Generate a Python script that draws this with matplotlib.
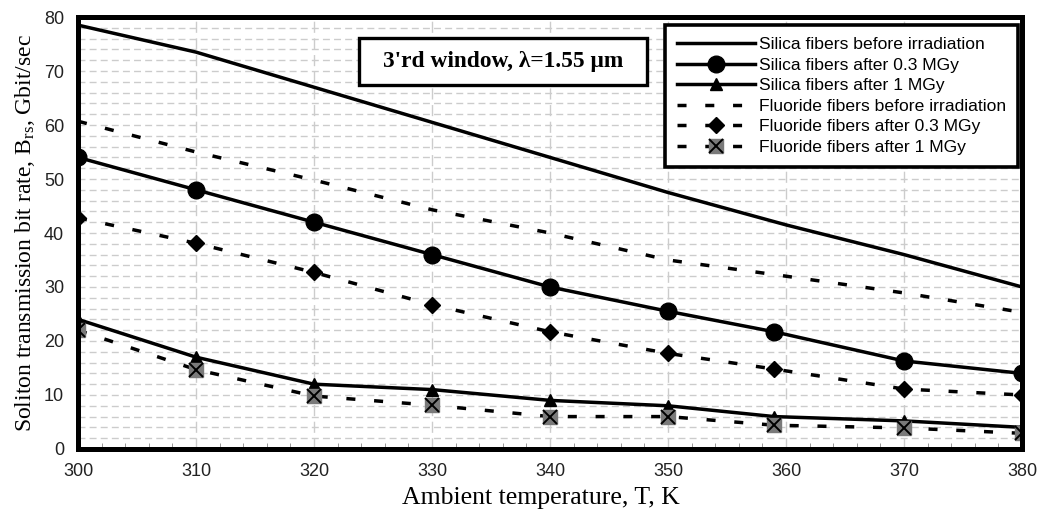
import matplotlib
matplotlib.use("Agg")
import matplotlib.pyplot as plt
from matplotlib.legend_handler import HandlerTuple
from matplotlib.patches import Rectangle
from matplotlib.ticker import MultipleLocator

# ambient temperature, K
temp_k = [300, 310, 320, 330, 340, 350, 359, 370, 380]
temp_before_k = [300, 310, 320, 330, 340, 350, 360, 370, 380]

# soliton transmission bit rate, Gbit/sec
silica_before = [78.5, 73.5, 67.0, 60.5, 54.0, 47.5, 41.5, 36.0, 30.0]
silica_03 = [54.0, 48.0, 42.0, 36.0, 30.0, 25.5, 21.7, 16.3, 14.0]
silica_1 = [24.0, 17.0, 12.0, 11.0, 9.0, 8.0, 6.0, 5.2, 4.0]
fluoride_before = [60.7, 55.0, 49.8, 44.3, 40.0, 35.0, 32.0, 28.9, 25.3]
fluoride_03 = [42.8, 38.1, 32.7, 26.7, 21.7, 17.7, 14.8, 11.1, 10.0]
fluoride_1 = [22.0, 14.7, 9.8, 8.1, 6.0, 6.0, 4.4, 3.9, 2.9]

labels = [
    "Silica fibers before irradiation",
    "Silica fibers after 0.3 MGy",
    "Silica fibers after 1 MGy",
    "Fluoride fibers before irradiation",
    "Fluoride fibers after 0.3 MGy",
    "Fluoride fibers after 1 MGy",
]

SANS = ["Liberation Sans", "DejaVu Sans"]
SERIF = ["Liberation Serif", "DejaVu Serif"]
plt.rcParams["font.family"] = SANS
plt.rcParams["mathtext.fontset"] = "stix"

LW = 2.5
DASH = (0, (2.6, 5.4))

fig = plt.figure(figsize=(10.42, 5.13), dpi=100)
ax = fig.add_axes([0.0749, 0.1248, 0.906, 0.842])

h1, = ax.plot(temp_before_k, silica_before, color="black", lw=LW)
h2, = ax.plot(temp_k, silica_03, color="black", lw=LW, marker="o", ms=12)
h3, = ax.plot(temp_k, silica_1, color="black", lw=LW, marker="^", ms=9)
h4, = ax.plot(temp_before_k, fluoride_before, color="black", lw=LW, ls=DASH)
h5, = ax.plot(temp_k, fluoride_03, color="black", lw=LW, ls=DASH, marker="D", ms=8.5)
h6, = ax.plot(temp_k, fluoride_1, color="black", lw=LW, ls=DASH, marker="s", ms=10.5,
              markerfacecolor="#7a7a7a", markeredgecolor="#7a7a7a")
h6x, = ax.plot(temp_k, fluoride_1, ls="none", marker="x", ms=10.5, mew=1.4, color="black")

ax.set_xlim(300, 380)
ax.set_ylim(0, 80)
ax.xaxis.set_major_locator(MultipleLocator(10))
ax.xaxis.set_minor_locator(MultipleLocator(2))
ax.yaxis.set_major_locator(MultipleLocator(10))
ax.yaxis.set_minor_locator(MultipleLocator(2))

ax.grid(axis="y", which="both", color="#cccccc", ls=(0, (5, 3)), lw=1.0)
ax.grid(axis="x", which="major", color="#cccccc", ls=(0, (8, 4)), lw=1.0)
ax.set_axisbelow(True)

ax.tick_params(which="major", length=0, labelsize=13, pad=10, labelcolor="#222222")
ax.tick_params(axis="x", which="minor", length=4, direction="in", color="#888888")
ax.tick_params(axis="y", which="minor", length=0)

for spine in ax.spines.values():
    spine.set_linewidth(3.6)
    spine.set_color("black")

ax.set_xlabel("Ambient temperature, T, K", family=SERIF, fontsize=18.5)
ax.xaxis.set_label_coords(0.490, -0.087)
ax.set_ylabel(r"Soliton transmission bit rate, B$\mathregular{_{rs}}$, Gbit/sec",
              family=SERIF, fontsize=17, labelpad=5)

# framed note "3'rd window"
ax.add_patch(Rectangle((0.2977, 0.8426), 0.3051, 0.1084, transform=ax.transAxes,
                       facecolor="white", edgecolor="black", lw=2.4, zorder=4))
ax.text(0.450, 0.897, "3'rd window, λ=1.55 μm", transform=ax.transAxes,
        family=SERIF, fontsize=16.8, fontweight="bold", ha="center", va="center",
        zorder=5)

leg = ax.legend([h1, h2, h3, h4, h5, (h6, h6x)], labels, loc="upper right",
                bbox_to_anchor=(0.996, 0.982),
                handler_map={tuple: HandlerTuple(ndivide=1, pad=0)},
                fontsize=12.6, frameon=True, fancybox=False, framealpha=1,
                edgecolor="black", borderaxespad=0, handlelength=4.45,
                handletextpad=0.23, labelspacing=0.3, borderpad=0.7)
leg.get_frame().set_linewidth(2.6)
leg.set_zorder(6)

fig.savefig("out.png", dpi=100)
